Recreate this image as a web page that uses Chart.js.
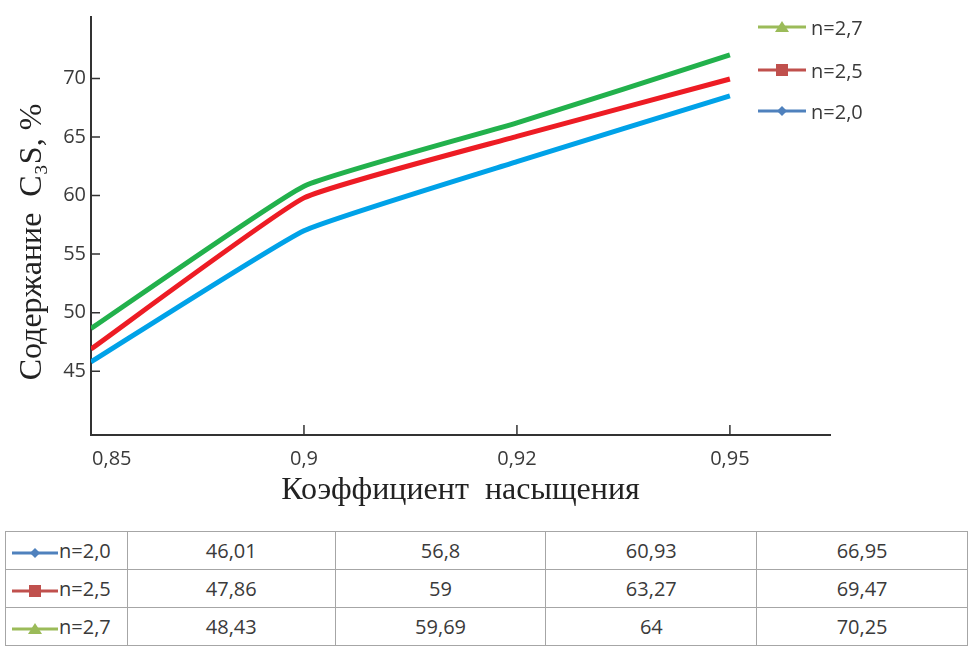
<!DOCTYPE html>
<html lang="ru">
<head>
  <meta charset="UTF-8">
  <title>Содержание C3S</title>
  <script src="https://cdn.jsdelivr.net/npm/chart.js"></script>
  <style>
    body {
      margin: 0;
      width: 968px;
      height: 646px;
      overflow: hidden;
      background: #fff;
      position: relative;
      font-family: 'Open Sans', sans-serif;
      color: #3a3a3a;
    }
    #wrap {
      position: absolute;
      left: 0;
      top: 0;
      width: 968px;
      height: 510px;
    }
    .legend {
      position: absolute;
      left: 758px;
      font-size: 20px;
      display: flex;
      align-items: center;
      height: 24px;
    }
    .legend svg { margin-right: 5px; }
    table {
      position: absolute;
      left: 5px;
      top: 531px;
      border-collapse: collapse;
      font-size: 20px;
    }
    td {
      border: 1.5px solid #a6a6a6;
      height: 37px;
      padding: 0;
      text-align: center;
    }
    td.name {
      text-align: left;
      padding-left: 6px;
      white-space: nowrap;
    }
    td.name svg { vertical-align: middle; margin-right: 1px; }
  </style>
</head>
<body>

  <div id="wrap"><canvas id="grafico" width="968" height="510"></canvas></div>

  <div class="legend" style="top:15px" id="lg-2"></div>
  <div class="legend" style="top:58px" id="lg-1"></div>
  <div class="legend" style="top:99px" id="lg-0"></div>

  <table id="tabela"></table>

  <script>
    // dados
    const categorias = ['0,85', '0,9', '0,92', '0,95'];
    const series = ['n=2,0', 'n=2,5', 'n=2,7'];
    const valoresN20 = [45.8, 57.0, 62.9, 68.5];
    const valoresN25 = [46.9, 59.8, 65.05, 69.95];
    const valoresN27 = [48.65, 60.8, 66.2, 72.0];
    const yTicks = [45, 50, 55, 60, 65, 70];

    // valores da tabela
    const tabelaN20 = ['46,01', '56,8', '60,93', '66,95'];
    const tabelaN25 = ['47,86', '59', '63,27', '69,47'];
    const tabelaN27 = ['48,43', '59,69', '64', '70,25'];

    const coresLinha = ['#00a2e8', '#ed1c24', '#22b14c'];
    const coresLegenda = ['#4f81bd', '#c0504d', '#9bbb59'];
    const marcadores = ['diamond', 'square', 'triangle'];

    function icone(i, w) {
      const c = coresLegenda[i];
      const m = w / 2;
      let mk = '';
      if (marcadores[i] === 'diamond') mk = `<polygon points="${m},3 ${m + 5},8 ${m},13 ${m - 5},8" fill="${c}"/>`;
      if (marcadores[i] === 'square') mk = `<rect x="${m - 6}" y="2" width="12" height="12" fill="${c}"/>`;
      if (marcadores[i] === 'triangle') mk = `<polygon points="${m},2 ${m + 7},13 ${m - 7},13" fill="${c}"/>`;
      return `<svg width="${w}" height="16"><line x1="0" y1="8" x2="${w}" y2="8" stroke="${c}" stroke-width="3"/>${mk}</svg>`;
    }

    series.forEach((s, i) => {
      document.getElementById('lg-' + i).innerHTML = icone(i, 48) + s;
    });

    const linhasTabela = [tabelaN20, tabelaN25, tabelaN27];
    const larguras = [122, 209, 212, 212, 212];
    let html = '<tr>' + larguras.map(w => `<td style="width:${w}px;padding:0;border:0;height:0"></td>`).join('') + '</tr>';
    linhasTabela.forEach((linha, i) => {
      html += `<tr><td class="name">${icone(i, 46)}${series[i]}</td>` +
        linha.map(v => `<td>${v}</td>`).join('') + '</tr>';
    });
    document.getElementById('tabela').innerHTML = html;

    const todos = [valoresN20, valoresN25, valoresN27];
    const datasets = todos.map((vals, i) => ({
      label: series[i],
      data: vals.map((v, k) => ({ x: k, y: v })),
      borderColor: coresLinha[i],
      borderWidth: 5,
      pointRadius: 0,
      tension: 0.12,
      fill: false
    }));

    // marcas de escala para dentro
    const marcasInternas = {
      id: 'marcasInternas',
      afterDraw(chart) {
        const { ctx, scales } = chart;
        const xs = scales.x, ys = scales.y;
        ctx.save();
        ctx.strokeStyle = '#333';
        ctx.lineWidth = 1.5;
        ctx.beginPath();
        for (let k = 1; k < categorias.length; k++) {
          const px = xs.getPixelForValue(k);
          ctx.moveTo(px, ys.bottom);
          ctx.lineTo(px, ys.bottom - 10);
        }
        yTicks.forEach(v => {
          const py = ys.getPixelForValue(v);
          ctx.moveTo(xs.left, py);
          ctx.lineTo(xs.left + 9, py);
        });
        ctx.stroke();
        ctx.restore();
      }
    };

    const ctx = document.getElementById('grafico').getContext('2d');
    new Chart(ctx, {
      type: 'line',
      data: { datasets: datasets },
      options: {
        responsive: false,
        animation: false,
        layout: { padding: { top: 15, right: 138, left: 0, bottom: 0 } },
        plugins: { legend: { display: false }, tooltip: { enabled: false } },
        scales: {
          x: {
            type: 'linear',
            min: 0,
            max: 3.47,
            afterBuildTicks(s) { s.ticks = categorias.map((c, k) => ({ value: k })); },
            afterFit(s) { s.height = 75; },
            grid: { display: false, drawTicks: false },
            border: { display: true, color: '#333', width: 2 },
            ticks: {
              autoSkip: false,
              maxRotation: 0,
              padding: 12,
              color: '#3a3a3a',
              font: { family: 'Open Sans', size: 20 },
              callback: (v, k) => (k === 0 ? '        ' : '') + categorias[k]
            },
            title: {
              display: true,
              text: 'Коэффициент  насыщения',
              color: '#222',
              font: { family: 'Liberation Serif', size: 32 },
              padding: { top: 0, bottom: 0 }
            }
          },
          y: {
            min: 39.56,
            max: 75.24,
            afterBuildTicks(s) { s.ticks = yTicks.map(v => ({ value: v })); },
            afterFit(s) { s.width = 91; },
            grid: { display: false, drawTicks: false },
            border: { display: true, color: '#333', width: 2 },
            ticks: {
              padding: 5,
              color: '#3a3a3a',
              font: { family: 'Open Sans', size: 20 }
            },
            title: {
              display: true,
              text: 'Содержание  C₃S, %    ',
              color: '#222',
              font: { family: 'Liberation Serif', size: 32 },
              padding: { top: 13, bottom: 13 }
            }
          }
        }
      },
      plugins: [marcasInternas]
    });
  </script>
</body>
</html>
